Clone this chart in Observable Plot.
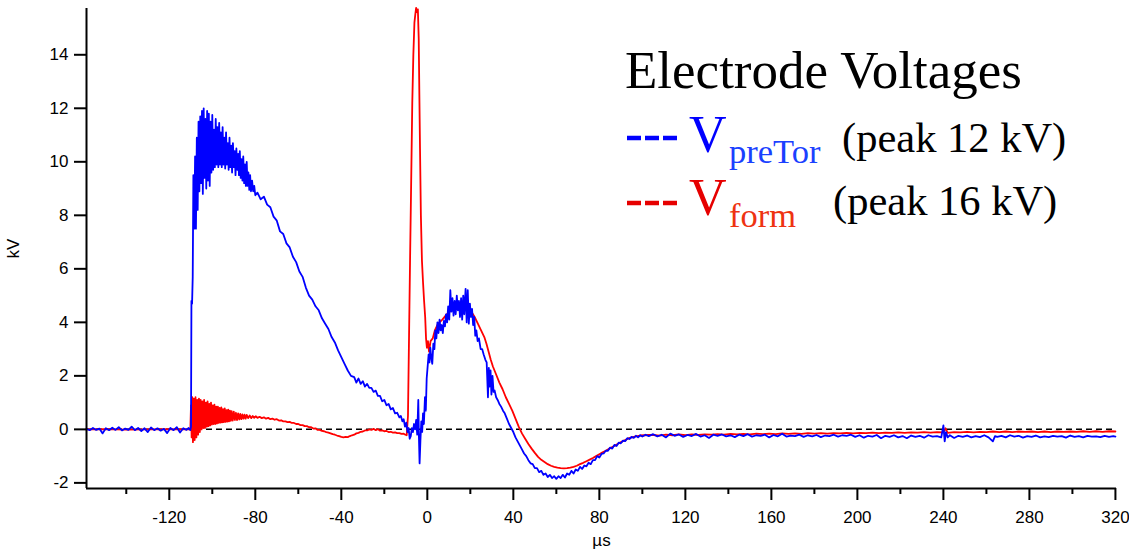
<!DOCTYPE html>
<html>
<head>
<meta charset="utf-8">
<script src="https://cdn.jsdelivr.net/npm/d3@7"></script>
<script src="https://cdn.jsdelivr.net/npm/@observablehq/plot@0.6"></script>
<style>
  body { margin: 0; background: white; }
  #wrap { position: relative; width: 1129px; height: 550px; }
  #legend { position: absolute; left: 0; top: 0; pointer-events: none; }
</style>
</head>
<body>
<div id="wrap"></div>
<script>
// ---- tick labels / domains ----
const xDomain = [-158.5, 320.5];
const yDomain = [-2.21, 15.73];
const xMajorTicks = [-120, -80, -40, 0, 40, 80, 120, 160, 200, 240, 280, 320];
const xMinorTicks = [-140, -100, -60, -20, 20, 60, 100, 140, 180, 220, 260, 300];
const yTicks = [-2, 0, 2, 4, 6, 8, 10, 12, 14];
const seriesNames = ["VpreTor", "Vform"];
const legendPeaks = ["(peak 12 kV)", "(peak 16 kV)"];

// ---- V_preTor (blue), [µs, kV] ----
const vPreTor = [
[-158.5,0.02],[-157,-0.03],[-155.5,0.05],[-154,-0.02],[-152.5,0.03],[-151,-0.15],[-149.5,0.04],[-148,-0.03],
[-146.5,0.06],[-145,-0.02],[-143.5,0.08],[-142,-0.04],[-140.5,0.03],[-139,-0.02],[-137.5,0.1],[-136,-0.03],
[-134.5,0.05],[-133,-0.06],[-131.5,0.04],[-130,-0.1],[-128.5,0.07],[-127,-0.03],[-125.5,0.04],[-124,-0.05],
[-122.5,0.02],[-121,-0.14],[-119.5,0.05],[-118,-0.03],[-116.5,0.08],[-115,-0.12],[-113.5,0.04],[-112,-0.02],
[-111,0.05],[-110.2,-0.03],
[-109.9,0.1],[-109.7,4.8],[-109.4,4.7],[-109.1,5.7],[-108.8,9.5],[-108.4,7.5],[-108,10.2],[-107.6,7.5],
[-107.2,10.9],[-106.8,8.2],[-106.4,11.5],[-106,8.9],[-105.6,11.7],[-105.2,9.2],[-104.8,11.9],[-104.4,8.8],
[-104,12.0],[-103.6,9.4],[-103.2,11.6],[-102.8,9.0],[-102.4,11.9],[-102,9.3],[-101.6,11.8],[-101.2,9.1],
[-100.8,11.5],[-100.4,9.6],[-100,11.75],[-99.6,9.7],[-99.2,11.2],[-98.8,9.8],[-98.4,11.6],[-98,9.9],
[-97.6,11.3],[-97.2,9.8],[-96.8,11.45],[-96.4,9.9],[-96,11.1],[-95.6,9.8],[-95.2,11.3],[-94.8,9.9],
[-94.4,10.9],[-94,9.75],[-93.6,11.1],[-93.2,9.9],[-92.8,10.7],[-92.4,9.7],[-92,10.9],[-91.6,9.8],
[-91.2,10.6],[-90.8,9.6],[-90.4,10.7],[-90,9.8],[-89.6,10.4],[-89.2,9.5],[-88.8,10.5],[-88.4,9.7],
[-88,10.3],[-87.6,9.5],[-87.2,10.4],[-86.8,9.4],[-86.4,10.1],[-86,9.3],[-85.6,10.2],[-85.2,9.2],
[-84.8,9.9],[-84.4,9.1],[-84,10.0],[-83.6,9.1],[-83.2,9.6],[-82.8,8.95],[-82.4,9.5],[-82,8.9],
[-81.5,9.3],[-81,8.9],[-80.5,9.1],[-80,8.75],
[-79,8.85],[-77.5,8.6],[-76,8.7],[-74.5,8.4],[-73,8.3],[-71.5,7.95],[-70,7.8],[-68.5,7.4],[-67,7.3],
[-65.5,6.95],[-64,6.8],[-62.5,6.45],[-61,6.25],[-59.5,5.9],[-58,5.7],[-56.5,5.3],[-55,5.0],[-53.5,4.85],
[-52,4.6],[-50.5,4.45],[-49,4.15],[-47.5,3.95],[-46,3.75],[-44.5,3.45],[-43,3.25],[-41.5,2.95],[-40,2.7],
[-38.5,2.45],[-37,2.2],[-35.5,2.0],[-34,1.95],[-33,1.75],[-32,1.9],[-31,1.7],[-30,1.8],[-29,1.6],[-28,1.7],
[-27,1.55],[-26,1.55],[-25,1.4],[-24,1.45],[-23,1.25],[-22,1.25],[-21,1.05],[-20,1.1],[-19,0.9],[-18,0.95],
[-17,0.75],[-16,0.8],[-15,0.6],[-14,0.62],[-13,0.45],[-12.3,0.5],[-11.6,0.3],[-11,0.38],[-10.4,0.1],
[-9.8,0.25],[-9.2,-0.1],[-8.7,0.05],[-8.2,-0.35],[-7.7,-0.25],[-7.2,0.05],[-6.7,-0.1],[-6.2,0.2],[-5.7,0.0],
[-5.2,0.35],[-4.7,-0.2],[-4.2,1.1],[-3.9,-0.3],[-3.6,-1.27],[-3.2,-0.4],[-2.8,0.3],[-2.4,-0.1],[-2.0,0.6],
[-1.6,0.2],[-1.1,1.2],[-0.7,0.7],[-0.3,1.9],[0.2,2.4],[0.6,2.8],[1.0,2.5],[1.4,3.05],[1.8,2.7],[2.3,2.45],
[2.8,3.2],[3.3,3.0],[3.7,3.7],[4.2,3.4],[4.7,4.0],[5.2,3.6],[5.7,4.1],[6.2,3.7],[6.7,3.9],[7.2,3.6],
[7.7,4.05],[8.2,3.85],[8.7,4.3],[9.2,4.0],[9.7,4.6],[10.2,4.1],[10.7,5.2],[11.2,4.4],[11.7,4.9],[12.2,4.25],
[12.7,4.8],[13.2,4.3],[13.7,5.0],[14.2,4.45],[14.7,4.8],[15.2,4.2],[15.7,4.9],[16.2,4.1],[16.7,5.0],
[17.2,4.3],[17.8,5.25],[18.3,4.0],[18.8,5.2],[19.3,3.95],[19.8,4.7],[20.3,4.2],[20.8,4.5],[21.3,3.9],
[21.8,4.2],[22.3,3.5],[22.8,3.7],[23.4,3.3],[24,3.4],[24.8,3.0],[25.5,3.0],[26.2,2.8],[27,2.6],[27.6,2.5],
[28.2,1.2],[28.6,2.3],[29,1.6],[29.4,2.2],[29.8,1.3],[30.3,2.0],[30.8,1.4],[31.3,1.45],[32,1.2],[32.7,1.1],
[33.5,0.95],[34.3,0.85],[35.2,0.7],[36,0.6],[37,0.4],[38,0.2],[39,0.05],[40,-0.1],[41,-0.3],[42,-0.45],
[43,-0.6],[44,-0.75],[45,-0.9],[46,-1.0],[47,-1.15],[48,-1.27],[49,-1.3],[50,-1.45],[51,-1.45],[52,-1.6],
[53,-1.55],[54,-1.7],[55,-1.65],[56,-1.78],[57,-1.7],[58,-1.82],[59,-1.75],[60,-1.85],[61,-1.75],[62,-1.82],
[63,-1.7],[64,-1.8],[65,-1.65],[66,-1.7],[67,-1.55],[68,-1.65],[69,-1.5],[70,-1.55],[71,-1.4],[72,-1.48],
[73,-1.35],[74,-1.38],[75,-1.25],[76,-1.3],[77,-1.15],[78,-1.15],[79,-1.0],[80,-1.05],[81,-0.92],[82,-0.9],
[83,-0.8],[84,-0.8],[85,-0.68],[86,-0.72],[87,-0.58],[88,-0.62],[89,-0.5],[90,-0.52],[91,-0.42],[92,-0.44],
[93,-0.33],[94,-0.36],[95,-0.28],[96,-0.32],[97,-0.24],[98,-0.3],[99,-0.22],[100,-0.27],[101.5,-0.2],[103,-0.25],
[105,-0.18],[107,-0.26],[109,-0.2],[111,-0.3],[113,-0.16],[115,-0.24],[117,-0.19],[119,-0.28],[121,-0.21],
[123,-0.25],[125,-0.17],[127,-0.27],[129,-0.22],[131,-0.32],[133,-0.2],[135,-0.24],[137,-0.19],[139,-0.26],
[141,-0.22],[143,-0.29],[145,-0.2],[147,-0.25],[149,-0.18],[151,-0.27],[153,-0.22],[155,-0.24],[157,-0.2],
[159,-0.3],[161,-0.21],[163,-0.26],[165,-0.16],[167,-0.27],[169,-0.23],[171,-0.25],[173,-0.2],[175,-0.28],
[177,-0.22],[179,-0.26],[181,-0.21],[183,-0.29],[185,-0.23],[187,-0.25],[189,-0.2],[191,-0.27],[193,-0.22],
[195,-0.24],[197,-0.2],[199,-0.28],[201,-0.22],[203,-0.31],[205,-0.24],[207,-0.27],[209,-0.21],[211,-0.33],
[213,-0.24],[215,-0.28],[217,-0.22],[219,-0.3],[221,-0.25],[223,-0.33],[225,-0.23],[227,-0.28],[229,-0.24],
[231,-0.31],[233,-0.22],[235,-0.27],[237,-0.25],[239,-0.3],[240,0.15],[240.6,-0.45],[241.2,-0.1],[242,-0.3],
[243,-0.22],[245,-0.32],[247,-0.24],[249,-0.28],[251,-0.23],[253,-0.3],[255,-0.25],[257,-0.29],[259,-0.22],
[261,-0.3],[263,-0.45],[264,-0.25],[265,-0.28],[267,-0.24],[269,-0.3],[271,-0.22],[273,-0.27],[275,-0.24],
[277,-0.31],[279,-0.25],[281,-0.28],[283,-0.23],[285,-0.3],[287,-0.26],[289,-0.29],[291,-0.24],[293,-0.27],
[295,-0.25],[297,-0.31],[299,-0.23],[301,-0.28],[303,-0.25],[305,-0.3],[307,-0.24],[309,-0.27],[311,-0.26],
[313,-0.29],[315,-0.24],[317,-0.28],[319,-0.25],[320,-0.27]
];

// ---- V_form (red), [µs, kV] ----
const vForm = [
[-158.5,0.0],[-150,0.01],[-140,-0.01],[-130,0.0],[-120,0.01],[-110.2,0.0],
[-109.9,0.9],[-109.6,-0.3],[-109.3,1.2],[-109.0,-0.48],[-108.6,1.15],[-108.2,-0.4],[-107.8,1.2],[-107.4,-0.3],
[-107,1.1],[-106.6,-0.2],[-106.2,1.15],[-105.8,-0.1],[-105.4,1.1],[-105,0.0],[-104.6,1.05],[-104.2,0.05],
[-103.8,1.1],[-103.4,0.05],[-103,1.0],[-102.6,0.1],[-102.2,1.05],[-101.8,0.12],[-101.4,0.95],[-101,0.15],
[-100.6,1.0],[-100.2,0.18],[-99.8,0.9],[-99.4,0.2],[-99,0.92],[-98.6,0.2],[-98.2,0.85],[-97.8,0.22],
[-97.4,0.85],[-97,0.24],[-96.6,0.8],[-96.2,0.25],[-95.8,0.82],[-95.4,0.26],[-95,0.76],[-94.6,0.27],
[-94.2,0.78],[-93.8,0.28],[-93.4,0.72],[-93,0.29],[-92.6,0.74],[-92.2,0.3],[-91.8,0.7],[-91.4,0.32],
[-91,0.68],[-90.5,0.33],[-90,0.66],[-89.5,0.35],[-89,0.62],[-88.5,0.35],[-88,0.6],[-87.5,0.37],[-87,0.58],
[-86.5,0.38],[-86,0.56],[-85.5,0.4],[-85,0.55],[-84.5,0.4],[-84,0.54],[-83.3,0.42],[-82.6,0.52],[-81.9,0.42],
[-81.2,0.5],[-80.5,0.43],[-79.8,0.49],[-79,0.43],[-78,0.47],[-77,0.42],[-76,0.45],[-75,0.4],[-74,0.43],
[-73,0.38],[-72,0.4],[-71,0.36],[-70,0.38],[-69,0.33],[-68,0.34],[-67,0.3],[-66,0.3],[-65,0.27],[-64,0.28],
[-63,0.24],[-62,0.24],[-61,0.2],[-60,0.2],[-59,0.16],[-58,0.16],[-57,0.12],[-56,0.12],[-55,0.08],[-54,0.08],
[-53,0.03],[-52,0.04],[-51,-0.02],[-50,-0.02],[-49,-0.06],[-48,-0.07],[-47,-0.1],[-46,-0.12],[-45,-0.15],
[-44,-0.18],[-43,-0.2],[-42,-0.23],[-41,-0.25],[-40,-0.28],[-39,-0.3],[-38,-0.28],[-37,-0.29],[-36,-0.25],
[-35,-0.22],[-34,-0.2],[-33,-0.15],[-32,-0.13],[-31,-0.09],[-30,-0.08],[-29,-0.04],[-28,-0.04],[-27,0.0],
[-26,-0.02],[-25,0.02],[-24,-0.03],[-23,0.01],[-22,-0.05],[-21,-0.04],[-20,-0.07],[-19,-0.06],[-18,-0.1],
[-17,-0.09],[-16,-0.12],[-15,-0.11],[-14,-0.14],[-13,-0.14],[-12,-0.17],[-11,-0.16],[-10.2,-0.2],[-9.6,-0.22],
[-9.0,0.5],[-8.5,3.5],[-8.0,6.5],[-7.5,9.3],[-7.0,12.2],[-6.5,14.0],[-6.0,15.2],[-5.6,15.5],[-5.2,15.75],
[-4.8,15.6],[-4.4,15.7],[-4.0,14.6],[-3.7,12.5],[-3.4,10.5],[-3.0,8.0],[-2.5,6.3],[-2.0,5.5],[-1.5,4.8],
[-1.0,4.2],[-0.6,3.4],[-0.2,3.05],[0.3,3.3],[0.8,2.9],[1.5,3.3],[2.5,3.4],[3.5,3.7],[5,3.95],[7,4.1],[9,4.3],
[11,4.45],[13,4.55],[15,4.65],[17,4.7],[19,4.6],[20.5,4.4],[22,4.2],[23.5,3.95],[25,3.7],[26.5,3.45],
[27.5,3.2],[28.5,2.9],[29.5,2.6],[30.5,2.35],[32,2.05],[33.5,1.75],[35,1.5],[36.5,1.2],[38,0.95],[39.5,0.7],
[41,0.4],[42.5,0.1],[44,-0.15],[45.5,-0.35],[47,-0.55],[48.5,-0.72],[50,-0.88],[51.5,-1.03],[53,-1.14],
[54.5,-1.22],[56,-1.3],[57.5,-1.36],[59,-1.4],[60.5,-1.43],[62,-1.45],[63.5,-1.46],[65,-1.45],[66.5,-1.43],
[68,-1.4],[69.5,-1.36],[71,-1.3],[72.5,-1.25],[74,-1.19],[75.5,-1.13],[77,-1.07],[78.5,-1.0],[80,-0.93],
[81.5,-0.86],[83,-0.8],[84.5,-0.73],[86,-0.66],[87.5,-0.59],[89,-0.52],[90.5,-0.46],[92,-0.4],[93.5,-0.34],
[95,-0.3],[97,-0.26],[99,-0.23],[101,-0.22],[103,-0.21],
[105,-0.21],[108,-0.23],[111,-0.2],[114,-0.22],[117,-0.19],[120,-0.22],[123,-0.19],[126,-0.21],[129,-0.19],
[132,-0.2],[135,-0.18],[138,-0.2],[141,-0.17],[144,-0.19],[147,-0.17],[150,-0.19],[153,-0.16],[156,-0.18],
[159,-0.16],[162,-0.18],[165,-0.15],[168,-0.17],[171,-0.15],[174,-0.17],[177,-0.14],[180,-0.16],[183,-0.14],
[186,-0.16],[189,-0.14],[192,-0.15],[195,-0.13],[198,-0.15],[201,-0.13],[204,-0.14],[207,-0.12],[210,-0.14],
[213,-0.12],[216,-0.13],[219,-0.11],[222,-0.13],[225,-0.11],[228,-0.12],[231,-0.1],[234,-0.12],[237,-0.1],
[240,-0.11],[241,0.04],[242,-0.13],[245,-0.1],[248,-0.11],[251,-0.09],[254,-0.11],[257,-0.09],[260,-0.1],
[263,-0.08],[266,-0.1],[269,-0.08],[272,-0.1],[275,-0.08],[278,-0.09],[281,-0.08],[284,-0.1],[287,-0.08],
[290,-0.1],[293,-0.08],[296,-0.09],[299,-0.08],[302,-0.09],[305,-0.07],[308,-0.09],[311,-0.07],[314,-0.09],
[317,-0.07],[320,-0.08]
];

const blue = "#0000ff";
const red = "#ff0000";
const toRows = (arr) => arr.map(([t, v]) => ({t, v}));
const fmt = (d) => String(d);

const chart = Plot.plot({
  width: 1129,
  height: 550,
  marginLeft: 86,
  marginRight: 13,
  marginTop: 8,
  marginBottom: 62,
  x: {domain: xDomain},
  y: {domain: yDomain},
  style: {fontFamily: "'Liberation Sans', Arial, sans-serif", fontSize: "17px", color: "black", background: "white", overflow: "visible"},
  marks: [
    Plot.ruleY([0], {stroke: "black", strokeWidth: 1.5, strokeDasharray: "6,4"}),
    Plot.line(toRows(vForm), {x: "t", y: "v", stroke: red, strokeWidth: 1.8}),
    Plot.line(toRows(vPreTor), {x: "t", y: "v", stroke: blue, strokeWidth: 1.8}),
    Plot.ruleX([xDomain[0]], {stroke: "black", strokeWidth: 2}),
    Plot.ruleY([yDomain[0]], {stroke: "black", strokeWidth: 2}),
    Plot.axisY({ticks: yTicks, tickSize: 12, tickPadding: 6, tickFormat: fmt, strokeWidth: 2,
      label: "kV", labelAnchor: "center", labelArrow: "none", labelOffset: 80, fontSize: 17}),
    Plot.axisX({ticks: xMajorTicks, tickSize: 12, tickPadding: 10, tickFormat: fmt, strokeWidth: 2,
      label: "µs", labelAnchor: "center", labelArrow: "none", labelOffset: 57, fontSize: 17}),
    Plot.axisX({ticks: xMinorTicks, tickSize: 6, tickFormat: () => "", strokeWidth: 2, label: null})
  ]
});

const wrap = document.getElementById("wrap");
wrap.appendChild(chart);

// ---- legend overlay ----
const lg = d3.select(wrap).append("svg")
  .attr("id", "legend").attr("width", 1129).attr("height", 550)
  .style("font-family", "'Liberation Serif', 'Times New Roman', serif");

lg.append("text").attr("x", 625).attr("y", 88).attr("font-size", 53).attr("fill", "black")
  .text("Electrode Voltages");

const rows = [
  {name: seriesNames[0], sub: "preTor", color: blue, subColor: "#1a40ff", dashY: 138, base: 152, subBase: 163, peakX: 842, peak: legendPeaks[0]},
  {name: seriesNames[1], sub: "form", color: "#e60000", subColor: "#ee3311", dashY: 203, base: 215, subBase: 227, peakX: 833, peak: legendPeaks[1]}
];
rows.forEach(r => {
  lg.append("line").attr("x1", 627).attr("x2", 677).attr("y1", r.dashY).attr("y2", r.dashY)
    .attr("stroke", r.color).attr("stroke-width", 4.5).attr("stroke-dasharray", "14,4");
  lg.append("text").attr("x", 689).attr("y", r.base).attr("font-size", 52).attr("fill", r.color).text("V");
  lg.append("text").attr("x", 729).attr("y", r.subBase).attr("font-size", 34.5).attr("fill", r.subColor).text(r.sub);
  lg.append("text").attr("x", r.peakX).attr("y", r.base).attr("font-size", 42.5).attr("fill", "black").text(r.peak);
});
</script>
</body>
</html>
